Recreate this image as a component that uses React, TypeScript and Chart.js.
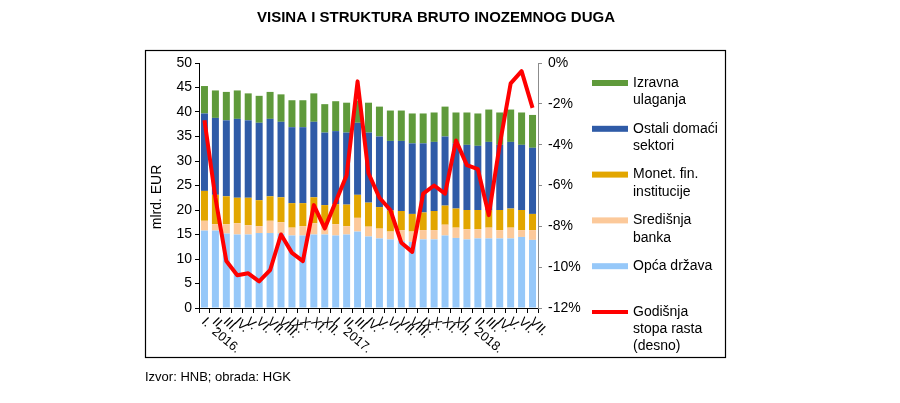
import React, { useEffect, useRef } from "react";
import { Chart, registerables } from "chart.js";
Chart.register(...registerables);

const monthLabels = [
  "I.", "II.", "III.", "IV.", "V.", "VI.", "VII.", "VIII.", "IX.", "X.", "XI.", "XII.",
  "I.", "II.", "III.", "IV.", "V.", "VI.", "VII.", "VIII.", "IX.", "X.", "XI.", "XII.",
  "I.", "II.", "III.", "IV.", "V.", "VI.", "VII.",
];
const yearLabels = [
  "2016.", "", "", "", "", "", "", "", "", "", "", "",
  "2017.", "", "", "", "", "", "", "", "", "", "", "",
  "2018.", "", "", "", "", "", "",
];

const opcaDrzava = [15.8, 15.8, 15.2, 15.0, 15.0, 15.3, 15.3, 15.2, 14.8, 14.8, 15.0, 15.0, 14.8, 15.0, 15.6, 14.6, 14.2, 14.0, 13.7, 13.5, 14.0, 14.0, 14.8, 14.3, 14.0, 14.2, 14.2, 14.2, 14.2, 14.5, 13.9];
const sredisnjaBanka = [2.0, 1.3, 1.9, 2.3, 1.9, 1.4, 2.5, 2.3, 1.6, 1.9, 2.3, 2.1, 2.3, 1.7, 2.8, 2.0, 2.0, 1.6, 2.2, 2.1, 1.9, 1.9, 2.2, 2.1, 2.1, 1.9, 2.2, 1.7, 2.2, 1.4, 2.0];
const monetFin = [6.1, 6.0, 5.7, 5.2, 5.6, 5.3, 5.0, 5.1, 5.0, 4.7, 5.3, 3.9, 4.1, 4.4, 4.7, 4.9, 4.4, 4.3, 3.9, 3.6, 3.6, 3.9, 3.9, 3.9, 3.9, 3.9, 3.5, 4.1, 3.9, 4.1, 3.3];
const ostaliSektori = [15.8, 15.7, 15.5, 16.1, 15.8, 15.8, 15.8, 15.4, 15.5, 15.5, 15.4, 14.8, 14.9, 14.7, 14.7, 14.3, 14.4, 14.2, 14.3, 14.4, 14.1, 14.1, 14.1, 13.3, 13.3, 13.1, 14.0, 13.3, 13.6, 13.3, 13.5];
const izravnaUlaganja = [5.6, 5.6, 5.8, 5.8, 5.5, 5.5, 5.5, 5.6, 5.5, 5.5, 5.8, 5.8, 6.1, 6.1, 4.5, 6.1, 6.1, 6.2, 6.2, 6.1, 6.1, 6.0, 6.1, 6.3, 6.6, 6.6, 6.6, 6.6, 6.6, 6.6, 6.7];
const stopaRasta = [-2.8, -6.6, -9.7, -10.4, -10.3, -10.7, -10.15, -8.4, -9.3, -9.7, -6.96, -8.1, -6.8, -5.5, -0.9, -5.4, -6.6, -7.2, -8.8, -9.25, -6.4, -6.0, -6.4, -3.8, -5.0, -5.2, -7.45, -4.0, -1.0, -0.4, -2.2];

const leftTicks = { min: 0, max: 50, step: 5 };
const rightTicks = { min: -12, max: 0, step: 2 };

const C_GREEN = "#5f9a3b";
const C_BLUE = "#2f5ba7";
const C_GOLD = "#e2a600";
const C_PEACH = "#fcc99a";
const C_LBLUE = "#96c8f9";
const C_RED = "#ff0000";

const legendItems = [
  { lines: ["Izravna", "ulaganja"], color: C_GREEN, kind: "bar" },
  { lines: ["Ostali domaći", "sektori"], color: C_BLUE, kind: "bar" },
  { lines: ["Monet. fin.", "institucije"], color: C_GOLD, kind: "bar" },
  { lines: ["Središnja", "banka"], color: C_PEACH, kind: "bar" },
  { lines: ["Opća država"], color: C_LBLUE, kind: "bar" },
  { lines: ["Godišnja", "stopa rasta", "(desno)"], color: C_RED, kind: "line" },
];

const FONT = "Arial, 'Liberation Sans', sans-serif";

const decorPlugin = {
  id: "decor",
  afterDraw(chart: any) {
    const ctx = chart.ctx;
    ctx.save();
    // title
    ctx.fillStyle = "#000";
    ctx.font = `bold 15px ${FONT}`;
    ctx.textAlign = "center";
    ctx.textBaseline = "middle";
    ctx.fillText("VISINA I STRUKTURA BRUTO INOZEMNOG DUGA", 436, 18);

    // frame
    ctx.strokeStyle = "#000";
    ctx.lineWidth = 1.2;
    ctx.strokeRect(145.5, 50.5, 580, 307);

    // y title
    ctx.save();
    ctx.translate(157, 197);
    ctx.rotate(-Math.PI / 2);
    ctx.font = `14px ${FONT}`;
    ctx.textAlign = "center";
    ctx.textBaseline = "middle";
    ctx.fillText("mlrd. EUR", 0, 0);
    ctx.restore();

    // x labels
    const xs = chart.scales.x;
    ctx.font = `13px ${FONT}`;
    ctx.textAlign = "left";
    ctx.textBaseline = "middle";
    for (let i = 0; i < monthLabels.length; i++) {
      const px = xs.getPixelForValue(i);
      ctx.save();
      ctx.translate(px - 1, 320);
      ctx.rotate((45 * Math.PI) / 180);
      ctx.fillText(monthLabels[i], 0, 0);
      ctx.restore();
      if (yearLabels[i]) {
        ctx.save();
        ctx.translate(px + 9, 330);
        ctx.rotate((40 * Math.PI) / 180);
        ctx.fillText(yearLabels[i], 0, 0);
        ctx.restore();
      }
    }

    // legend
    ctx.font = `14px ${FONT}`;
    ctx.textAlign = "left";
    ctx.textBaseline = "middle";
    const y0 = 83;
    const slot = 45.8;
    const lh = 17.3;
    legendItems.forEach((it, k) => {
      const y = y0 + k * slot;
      if (it.kind === "bar") {
        ctx.fillStyle = it.color;
        ctx.fillRect(592, y - 3, 36, 6);
      } else {
        ctx.strokeStyle = it.color;
        ctx.lineWidth = 4;
        ctx.beginPath();
        ctx.moveTo(592, y);
        ctx.lineTo(628, y);
        ctx.stroke();
      }
      ctx.fillStyle = "#000";
      it.lines.forEach((ln, j) => ctx.fillText(ln, 633, y + j * lh));
    });

    // source
    ctx.font = `13px ${FONT}`;
    ctx.fillStyle = "#000";
    ctx.fillText("Izvor: HNB; obrada: HGK", 145, 377);
    ctx.restore();
  },
};

export default function App() {
  const ref = useRef<HTMLCanvasElement>(null);
  useEffect(() => {
    if (!ref.current) return;
    const barDs = (label: string, data: number[], color: string) => ({
      type: "bar" as const,
      label,
      data,
      backgroundColor: color,
      borderWidth: 0,
      yAxisID: "y",
      order: 1,
      barPercentage: 0.64,
      categoryPercentage: 1.0,
    });
    const chart = new Chart(ref.current, {
      type: "bar",
      data: {
        labels: monthLabels,
        datasets: [
          barDs("Opća država", opcaDrzava, C_LBLUE),
          barDs("Središnja banka", sredisnjaBanka, C_PEACH),
          barDs("Monet. fin. institucije", monetFin, C_GOLD),
          barDs("Ostali domaći sektori", ostaliSektori, C_BLUE),
          barDs("Izravna ulaganja", izravnaUlaganja, C_GREEN),
          {
            type: "line" as const,
            label: "Godišnja stopa rasta (desno)",
            data: stopaRasta,
            borderColor: C_RED,
            borderWidth: 4,
            pointRadius: 0,
            tension: 0,
            yAxisID: "y1",
            order: 0,
            borderJoinStyle: "round",
          } as any,
        ],
      },
      options: {
        animation: false,
        responsive: false,
        devicePixelRatio: 1,
        layout: { padding: { left: 139, right: 302, top: 63, bottom: 85 } },
        plugins: { legend: { display: false }, tooltip: { enabled: false }, title: { display: false } },
        scales: {
          x: {
            stacked: true,
            grid: { display: true, drawOnChartArea: false, drawTicks: true, tickLength: 5, color: "#000", offset: true },
            border: { display: true, color: "#000", width: 1 },
            ticks: { display: false },
            afterFit: (s: any) => { s.height = 10; },
          },
          y: {
            stacked: true,
            position: "left",
            min: leftTicks.min,
            max: leftTicks.max,
            ticks: { stepSize: leftTicks.step, color: "#000", font: { family: FONT, size: 14 }, padding: 3 },
            grid: { display: true, drawOnChartArea: false, drawTicks: true, tickLength: 4, color: "#000" },
            border: { display: true, color: "#000", width: 1 },
            afterFit: (s: any) => { s.width = 60; },
          },
          y1: {
            stacked: false,
            position: "right",
            min: rightTicks.min,
            max: rightTicks.max,
            ticks: {
              stepSize: rightTicks.step,
              color: "#000",
              font: { family: FONT, size: 14 },
              padding: 6,
              callback: (v: any) => `${Number(v) === 0 ? 0 : v}%`,
            },
            grid: { display: true, drawOnChartArea: false, drawTicks: true, tickLength: 4, color: "#8c8c8c" },
            border: { display: true, color: "#8c8c8c", width: 1 },
            afterFit: (s: any) => { s.width = 60; },
          },
        },
      } as any,
      plugins: [decorPlugin],
    });
    return () => chart.destroy();
  }, []);
  return (
    <div style={{ position: "fixed", left: 0, top: 0, width: 900, height: 403, background: "#fff" }}>
      <canvas ref={ref} width={900} height={403} style={{ width: 900, height: 403, display: "block" }} />
    </div>
  );
}
